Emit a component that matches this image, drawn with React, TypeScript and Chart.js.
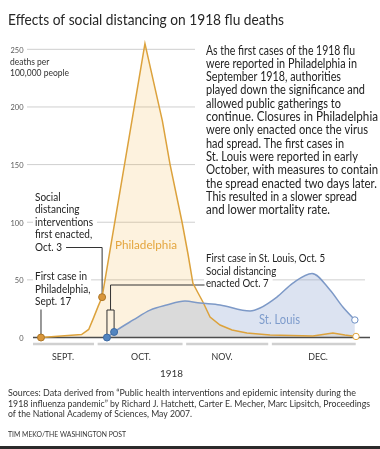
import React, { useEffect, useRef } from 'react';
import { Chart, registerables } from 'chart.js';

Chart.register(...registerables);

// ---------- data (x = day index along the time axis, y = deaths per 100,000) ----------
const PHILLY_DAYS = [10.8, 25, 27.5, 29.2, 30.8, 32.2, 47.2, 53.3, 56, 60.2, 62.3, 64.0, 65.8, 67.5, 70.0, 73.5, 77.7, 82.9, 91, 106, 113, 117.2, 121.1];
const PHILLY_DEATHS = [0, 2.5, 7, 17, 27, 35, 255, 188, 150, 100, 72, 47, 38.6, 30.8, 17.8, 10.8, 6.5, 3.9, 2.2, 1.3, 3.9, 2.2, 0.9];

const STL_DAYS = [33.9, 36.4, 43.1, 49.0, 54.8, 61.2, 66.5, 73.5, 84.0, 87.5, 93.4, 99.0, 105.7, 112.0, 116.5, 120.7];
const STL_DEATHS = [0, 4.8, 15.2, 23.8, 28.2, 31.6, 29.9, 28.2, 23.0, 25.6, 35.1, 47.2, 55.6, 41.2, 26.4, 15.2];

const Y_TICKS = [0, 50, 100, 150, 200, 250];
const MONTH_BOUNDS = [8, 30, 61, 91, 121];
const MONTH_LABELS = ['SEPT.', 'OCT.', 'NOV.', 'DEC.'];
const MONTH_LABEL_DAYS = [18.5, 45.8, 74.2, 107.8];
const YEAR_LABEL = '1918';

const TITLE = 'Effects of social distancing on 1918 flu deaths';
const UNIT_LINES = ['deaths per', '100,000 people'];
const PARAGRAPH = [
  'As the first cases of the 1918 flu',
  'were reported in Philadelphia in',
  'September 1918, authorities',
  'played down the significance and',
  'allowed public gatherings to',
  'continue. Closures in Philadelphia',
  'were only enacted once the virus',
  'had spread. The first cases in',
  'St. Louis were reported in early',
  'October, with measures to contain',
  'the spread enacted two days later.',
  'This resulted in a slower spread',
  'and lower mortality rate.',
];
const NOTE_PHILLY_ACTION = ['Social', 'distancing', 'interventions', 'first enacted,', 'Oct. 3'];
const NOTE_PHILLY_FIRST = ['First case in', 'Philadelphia,', 'Sept. 17'];
const NOTE_STL = ['First case in St. Louis, Oct. 5', 'Social distancing', 'enacted Oct. 7'];
const SERIES_PHILLY = 'Philadelphia';
const SERIES_STL = 'St. Louis';
const SOURCES = [
  'Sources: Data derived from \u201CPublic health interventions and epidemic intensity during the',
  '1918 influenza pandemic\u201D by Richard J. Hatchett, Carter E. Mecher, Marc Lipsitch, Proceedings',
  'of the National Academy of Sciences, May 2007.',
];
const CREDIT = 'TIM MEKO/THE WASHINGTON POST';

// ---------- layout / styling ----------
const PARA_RIGHT = [355, 357, 341, 365, 341, 378, 368, 344, 358, 378, 377, 357, 330];
const SOURCE_RIGHT = [356, 370, 192];
const FONT = 'Lato, "Open Sans", sans-serif';
const ORANGE = '#dca23c';
const ORANGE_LABEL = '#e4a53e';
const BLUE = '#7d99c7';
const BLUE_LABEL = '#7e9ccc';
const TEXT = '#232323';

function setFont(ctx: CanvasRenderingContext2D, size: number, weight = 'normal') {
  ctx.font = `${weight} ${size}px ${FONT}`;
}
function fit(ctx: CanvasRenderingContext2D, text: string, size: number, target: number) {
  ctx.save();
  setFont(ctx, size);
  const w = ctx.measureText(text).width;
  ctx.restore();
  return Math.max(0.5, Math.min(1.3, target / w));
}
function widthOf(ctx: CanvasRenderingContext2D, text: string, size: number, sx: number) {
  ctx.save();
  setFont(ctx, size);
  const w = ctx.measureText(text).width * sx;
  ctx.restore();
  return w;
}
function draw(ctx: CanvasRenderingContext2D, text: string, x: number, y: number, size: number, color: string, sx: number, align: CanvasTextAlign = 'left') {
  ctx.save();
  setFont(ctx, size);
  ctx.fillStyle = color;
  ctx.textAlign = align;
  ctx.textBaseline = 'alphabetic';
  ctx.translate(x, y);
  ctx.scale(sx, 1);
  ctx.fillText(text, 0, 0);
  ctx.restore();
}

const NOTE_SIZE = 10.5;
const NOTE_LH = 12.5;

function noteLayout(ctx: CanvasRenderingContext2D) {
  const sxA = fit(ctx, 'interventions', NOTE_SIZE, 58);
  const sxC = fit(ctx, NOTE_STL[0], NOTE_SIZE, 119);
  return [
    { lines: NOTE_PHILLY_ACTION, x: 35, y0: 200.5, sx: sxA },
    { lines: NOTE_PHILLY_FIRST, x: 35, y0: 280, sx: sxA },
    { lines: NOTE_STL, x: 206, y0: 262, sx: sxC },
  ];
}

const annotPlugin = {
  id: 'annot',
  beforeDraw(chart: any) {
    const ctx: CanvasRenderingContext2D = chart.ctx;
    const ys = chart.scales.y;
    ctx.save();
    ctx.fillStyle = '#ffffff';
    ctx.fillRect(0, 0, chart.width, chart.height);
    // gridlines
    ctx.strokeStyle = '#cfcfcf';
    ctx.lineWidth = 1;
    Y_TICKS.forEach((v) => {
      if (v === 0) return;
      const y = ys.getPixelForValue(v);
      ctx.beginPath();
      ctx.moveTo(27, y);
      ctx.lineTo(v >= 100 ? 195 : 365, y);
      ctx.stroke();
    });
    // white halos behind annotation text
    ctx.fillStyle = '#ffffff';
    noteLayout(ctx).forEach((b) => {
      b.lines.forEach((l, i) => {
        const w = widthOf(ctx, l, NOTE_SIZE, b.sx);
        ctx.fillRect(b.x - 2, b.y0 + i * NOTE_LH - 10, w + 6, 13.5);
      });
    });
    ctx.restore();
  },
  beforeDatasetsDraw(chart: any) {
    const ctx: CanvasRenderingContext2D = chart.ctx;
    const xs = chart.scales.x;
    const ys = chart.scales.y;
    const area = chart.chartArea;
    const y0 = ys.getPixelForValue(0);
    ctx.save();
    // month bands
    ctx.strokeStyle = '#d0d0d0';
    ctx.lineWidth = 2.5;
    for (let i = 0; i < MONTH_BOUNDS.length - 1; i++) {
      const a = xs.getPixelForValue(MONTH_BOUNDS[i]) + (i === 0 ? 0 : 1.8);
      const b = xs.getPixelForValue(MONTH_BOUNDS[i + 1]) - (i === MONTH_BOUNDS.length - 2 ? 0 : 1.8);
      ctx.beginPath();
      ctx.moveTo(a, y0 + 6.5);
      ctx.lineTo(b, y0 + 6.5);
      ctx.stroke();
    }
    // zero line
    ctx.strokeStyle = '#4d4d4d';
    ctx.lineWidth = 1.5;
    ctx.beginPath();
    ctx.moveTo(area.left, y0);
    ctx.lineTo(area.right, y0);
    ctx.stroke();

    // leader lines
    ctx.strokeStyle = '#333333';
    ctx.lineWidth = 1;
    const layout = noteLayout(ctx);
    const pAx = xs.getPixelForValue(PHILLY_DAYS[5]);
    const pAy = ys.getPixelForValue(PHILLY_DEATHS[5]);
    const bA = layout[0];
    const lastA = bA.lines[bA.lines.length - 1];
    const startA = bA.x + widthOf(ctx, lastA, NOTE_SIZE, bA.sx) + 4;
    const yA = bA.y0 + (bA.lines.length - 1) * NOTE_LH - 3;
    ctx.beginPath();
    ctx.moveTo(startA, yA);
    ctx.lineTo(pAx, yA);
    ctx.lineTo(pAx, pAy);
    ctx.stroke();
    const pBx = xs.getPixelForValue(PHILLY_DAYS[0]);
    const pBy = ys.getPixelForValue(PHILLY_DEATHS[0]);
    ctx.beginPath();
    ctx.moveTo(pBx, 309.5);
    ctx.lineTo(pBx, pBy);
    ctx.stroke();
    const s1x = xs.getPixelForValue(STL_DAYS[0]);
    const s1y = ys.getPixelForValue(STL_DEATHS[0]);
    const s2x = xs.getPixelForValue(STL_DAYS[1]);
    const s2y = ys.getPixelForValue(STL_DEATHS[1]);
    const top = 310;
    const mid = (s1x + s2x) / 2;
    const bC = layout[2];
    const yC = bC.y0 + 2 * NOTE_LH - 2;
    ctx.beginPath();
    ctx.moveTo(s1x, s1y);
    ctx.lineTo(s1x, top);
    ctx.lineTo(s2x, top);
    ctx.lineTo(s2x, s2y);
    ctx.moveTo(mid, top);
    ctx.lineTo(mid, yC);
    ctx.lineTo(bC.x - 1.5, yC);
    ctx.stroke();
    ctx.restore();
  },
  afterDatasetsDraw(chart: any) {
    const ctx: CanvasRenderingContext2D = chart.ctx;
    const xs = chart.scales.x;
    const ys = chart.scales.y;
    const y0 = ys.getPixelForValue(0);

    draw(ctx, TITLE, 8, 25, 15, '#262626', fit(ctx, TITLE, 15, 276));

    const sxT = fit(ctx, '250', 8, 13);
    Y_TICKS.forEach((v) => draw(ctx, String(v), 23.5, ys.getPixelForValue(v) + 3.3, 8, '#5a5a5a', sxT, 'right'));
    const sxU = fit(ctx, UNIT_LINES[1], 8.5, 59);
    UNIT_LINES.forEach((l, i) => draw(ctx, l, 10, 65 + i * 11, 8.5, '#333333', sxU));

    PARAGRAPH.forEach((l, i) => draw(ctx, l, 206, 54.5 + i * 13.3, 12.5, TEXT, fit(ctx, l, 12.5, PARA_RIGHT[i] - 206)));

    noteLayout(ctx).forEach((b) => {
      b.lines.forEach((l, i) => draw(ctx, l, b.x, b.y0 + i * NOTE_LH, NOTE_SIZE, TEXT, b.sx));
    });

    draw(ctx, SERIES_PHILLY, 115, 249, 12, ORANGE_LABEL, fit(ctx, SERIES_PHILLY, 12, 62));
    draw(ctx, SERIES_STL, 259, 324, 12.5, BLUE_LABEL, fit(ctx, SERIES_STL, 12.5, 41));

    const sxM = fit(ctx, 'SEPT.', 9, 22);
    MONTH_LABELS.forEach((m, i) => draw(ctx, m, xs.getPixelForValue(MONTH_LABEL_DAYS[i]), y0 + 22.5, 9, '#333333', sxM, 'center'));
    draw(ctx, YEAR_LABEL, 171.5, 377, 10, '#333333', fit(ctx, YEAR_LABEL, 10, 23), 'center');

    SOURCES.forEach((l, i) => draw(ctx, l, 8, 396 + i * 10.65, 8.8, '#333333', fit(ctx, l, 8.8, SOURCE_RIGHT[i] - 8)));
    draw(ctx, CREDIT, 8, 436.7, 7, '#333333', fit(ctx, CREDIT, 7, 118));

    ctx.save();
    ctx.fillStyle = '#2b2b2b';
    ctx.fillRect(0, 446, chart.width, 3);
    ctx.restore();
  },
};

export default function App() {
  const ref = useRef<HTMLCanvasElement | null>(null);
  useEffect(() => {
    const canvas = ref.current;
    if (!canvas) return;
    const nP = PHILLY_DAYS.length;
    const nS = STL_DAYS.length;
    const chart = new Chart(canvas, {
      type: 'line',
      data: {
        datasets: [
          {
            label: SERIES_STL,
            data: STL_DAYS.map((d, i) => ({ x: d, y: STL_DEATHS[i] })),
            borderColor: BLUE,
            borderWidth: 1.5,
            backgroundColor: 'rgba(138,162,208,0.3)',
            fill: 'origin',
            cubicInterpolationMode: 'monotone',
            pointRadius: STL_DAYS.map((_, i) => (i === 0 || i === 1 ? 3.5 : i === nS - 1 ? 3.2 : 0)),
            pointBackgroundColor: STL_DAYS.map((_, i) => (i === nS - 1 ? '#ffffff' : '#5285c0')),
            pointBorderColor: STL_DAYS.map((_, i) => (i === nS - 1 ? '#6d8fc4' : '#3d6aa3')),
            pointBorderWidth: 1,
            clip: false,
          } as any,
          {
            label: SERIES_PHILLY,
            data: PHILLY_DAYS.map((d, i) => ({ x: d, y: PHILLY_DEATHS[i] })),
            borderColor: ORANGE,
            borderWidth: 1.5,
            backgroundColor: 'rgba(245,170,40,0.153)',
            fill: 'origin',
            tension: 0,
            pointRadius: PHILLY_DAYS.map((_, i) => (i === 0 || i === 5 ? 3.5 : i === nP - 1 ? 3.2 : 0)),
            pointBackgroundColor: PHILLY_DAYS.map((_, i) => (i === nP - 1 ? '#ffffff' : '#d9963a')),
            pointBorderColor: PHILLY_DAYS.map((_, i) => (i === nP - 1 ? '#e0a43e' : '#ad7626')),
            pointBorderWidth: 1,
            clip: false,
          } as any,
        ],
      },
      options: {
        animation: false,
        responsive: false,
        devicePixelRatio: 1,
        events: [],
        layout: { padding: { left: 33, right: 10, top: 37.8, bottom: 111.5 } },
        scales: {
          x: { type: 'linear', min: 8, max: 126, display: false },
          y: { type: 'linear', min: 0, max: 260, display: false },
        },
        plugins: {
          legend: { display: false },
          tooltip: { enabled: false },
          filler: { drawTime: 'beforeDatasetsDraw' },
        },
      } as any,
      plugins: [annotPlugin as any],
    });
    const t = setTimeout(() => chart.draw(), 200);
    return () => {
      clearTimeout(t);
      chart.destroy();
    };
  }, []);

  return (
    <div style={{ position: 'absolute', left: 0, top: 0, width: 380, height: 449, background: '#fff' }}>
      <canvas ref={ref} width={380} height={449} style={{ display: 'block', width: 380, height: 449 }} />
    </div>
  );
}
